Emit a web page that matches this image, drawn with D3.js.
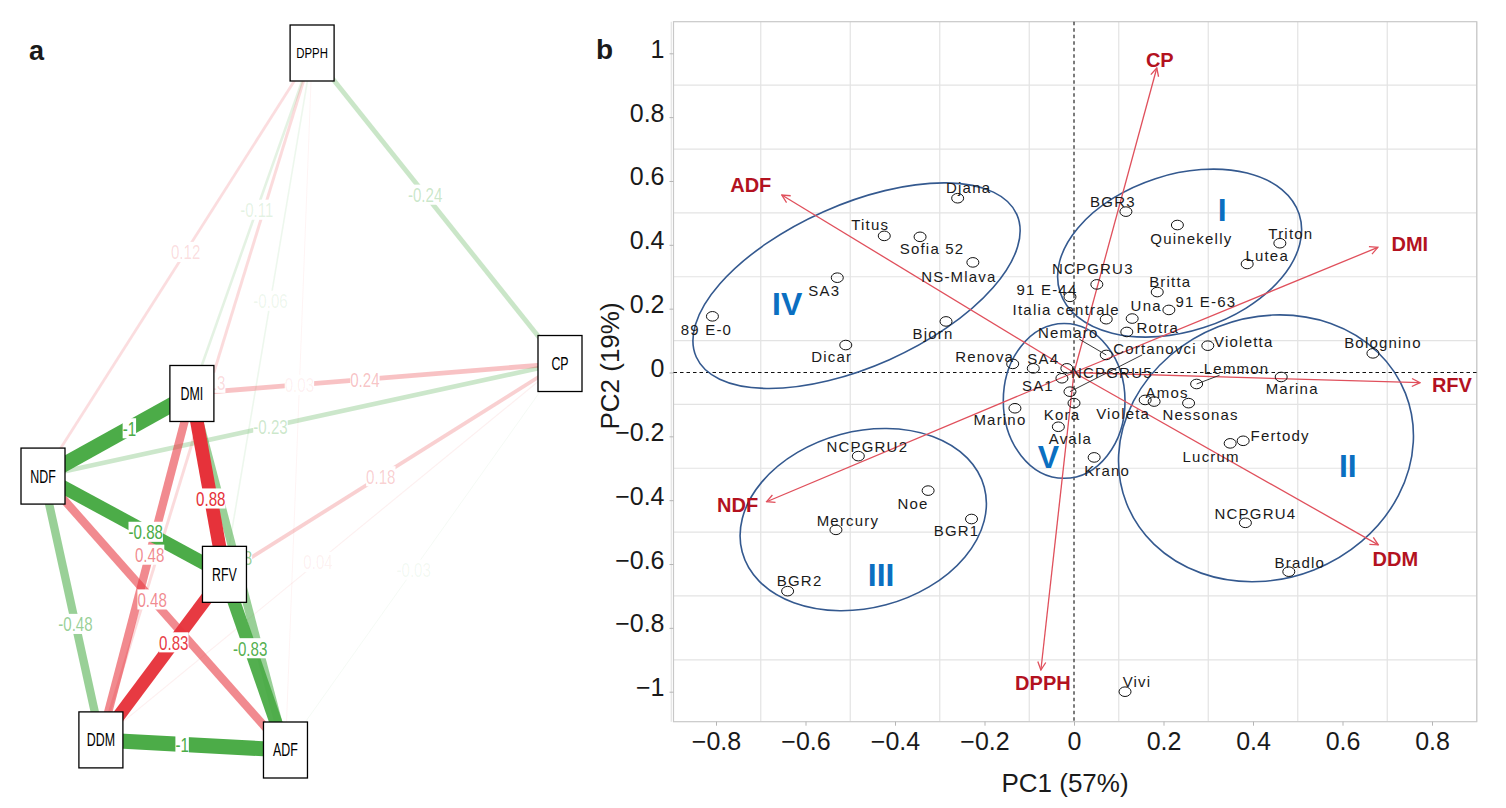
<!DOCTYPE html>
<html>
<head>
<meta charset="utf-8">
<script src="https://cdn.jsdelivr.net/npm/d3@7"></script>
<style>
  body { margin: 0; background: #fff; }
  text { font-family: "Liberation Sans", Arial, sans-serif; }
</style>
</head>
<body>
<div id="container"></div>
<script>
// ---------- panel a data: correlation network ----------
const nodeNames = ["DPPH", "CP", "DMI", "NDF", "RFV", "DDM", "ADF"];
// qgraph-like layout coordinates (-1..1)
const nodeX = [0.041, 1, -0.424, -1, -0.298, -0.776, -0.062];
const nodeY = [1, 0.109, 0.023, -0.214, -0.496, -0.971, -1];

const edgeFrom = ["NDF", "DDM", "DMI", "NDF", "DDM", "ADF", "DMI", "NDF", "NDF", "DMI", "DMI",
                  "NDF", "RFV", "DDM", "ADF", "DPPH", "DPPH", "DPPH", "DPPH", "DPPH", "DPPH"];
const edgeTo   = ["DMI", "ADF", "RFV", "RFV", "RFV", "RFV", "ADF", "DDM", "ADF", "DDM", "CP",
                  "CP", "CP", "CP", "CP", "CP", "NDF", "DMI", "RFV", "ADF", "DDM"];
const edgeR    = [-1, -1, 0.88, -0.88, 0.83, -0.83, -0.48, -0.48, 0.48, 0.48, 0.24,
                  -0.23, 0.18, 0.04, -0.03, -0.24, 0.12, -0.11, -0.06, 0.03, 0.13];
// where along the edge the label sits
const edgeLabelT = [0.58, 0.44, 0.58, 0.566, 0.59, 0.58, 0.46, 0.56, 0.45, 0.465, 0.47,
                    0.44, 0.466, 0.473, 0.467, 0.456, 0.47, 0.46, 0.475, 0.476, 0.48];

// ---------- panel b data: PCA biplot ----------
const cultivars = ["Djana", "Titus", "Sofia 52", "NS-Mlava", "SA3", "89 E-0", "Dicar", "Bjorn",
  "Renova", "Marino", "NCPGRU2", "Noe", "Mercury", "BGR1", "BGR2", "BGR3", "Quinekelly",
  "Triton", "Lutea", "NCPGRU3", "91 E-44", "Italia centrale", "Britta", "Una", "91 E-63",
  "Rotra", "Nemaro", "Cortanovci", "NCPGRU5", "SA4", "SA1", "Kora", "Avala", "Krano",
  "Violetta", "Bolognino", "Lemmon", "Marina", "Amos", "Violeta", "Nessonas", "Lucrum",
  "Fertody", "NCPGRU4", "Bradlo", "Vivi"];
const pc1 = [-0.260, -0.424, -0.344, -0.226, -0.529, -0.808, -0.510, -0.286,
  -0.137, -0.132, -0.482, -0.326, -0.532, -0.229, -0.640, 0.116, 0.231,
  0.460, 0.387, 0.051, -0.009, 0.072, 0.186, 0.130, 0.212,
  0.118, 0.072, -0.009, -0.016, -0.091, -0.027, 0.000, -0.035, 0.045,
  0.299, 0.668, 0.274, 0.463, 0.179, 0.159, 0.256, 0.349,
  0.378, 0.383, 0.480, 0.114];
const pc2 = [0.546, 0.428, 0.425, 0.345, 0.297, 0.176, 0.086, 0.160,
  0.027, -0.112, -0.262, -0.370, -0.493, -0.459, -0.685, 0.504, 0.462,
  0.405, 0.340, 0.276, 0.237, 0.167, 0.252, 0.169, 0.196,
  0.127, 0.055, -0.060, 0.013, 0.013, -0.018, -0.096, -0.170, -0.266,
  0.084, 0.060, -0.036, -0.014, -0.091, -0.086, -0.096, -0.222,
  -0.214, -0.471, -0.624, -1.000];

// variable loadings (arrows)
const varNames = ["CP", "ADF", "DMI", "RFV", "DDM", "DPPH", "NDF"];
const varPC1 = [0.185, -0.653, 0.679, 0.773, 0.680, -0.074, -0.687];
const varPC2 = [0.954, 0.556, 0.392, -0.032, -0.540, -0.932, -0.405];

// cluster ellipses (centre in PC units, half axes in PC1 units, tilt in degrees)
const clusterNames = ["I", "II", "III", "IV", "V"];
const clusterCX = [0.236, 0.429, -0.471, -0.486, -0.022];
const clusterCY = [0.374, -0.2375, -0.461, 0.272, -0.089];
const clusterA = [0.281, 0.335, 0.280, 0.392, 0.136];
const clusterB = [0.175, 0.292, 0.197, 0.181, 0.173];
const clusterTilt = [18, 21.5, 15, 24, 0];
const clusterLabelX = [0.331, 0.612, -0.431, -0.641, -0.057];
const clusterLabelY = [0.512, -0.290, -0.634, 0.217, -0.264];

const xTicks = d3.range(-4, 5).map(i => +(i * 0.2).toFixed(1));
const yTicks = d3.range(-5, 6).map(i => +(i * 0.2).toFixed(1));
const gridVals = d3.range(-9, 10, 2).map(i => +(i * 0.1).toFixed(1));

// label nudges in pixels (ggrepel placement)
const labelNudge = {
  "Djana": [11, -10], "Titus": [-14, -11], "Sofia 52": [12, 12], "NS-Mlava": [-14, 14],
  "SA3": [-13, 13], "89 E-0": [-6, 13], "Dicar": [-14, 12], "Bjorn": [-13, 12],
  "Renova": [-28, -7], "Marino": [-15, 12], "NCPGRU2": [9, -9], "Noe": [-15, 13],
  "Mercury": [12, -9], "BGR1": [-15, 12], "BGR2": [12, -10], "BGR3": [-13, -10],
  "Quinekelly": [14, 14], "Triton": [11, -9], "Lutea": [20, -8], "NCPGRU3": [-4, -16],
  "91 E-44": [-23, -7], "Italia centrale": [-40, -9], "Britta": [13, -10], "Una": [14, -13],
  "91 E-63": [37, -8], "Rotra": [31, -4], "Nemaro": [-38, -22], "Cortanovci": [85, -43],
  "NCPGRU5": [45, 4], "SA4": [10, -10], "SA1": [-24, 8], "Kora": [-12, 12], "Avala": [12, 12],
  "Krano": [13, 13], "Violetta": [36, -4], "Bolognino": [10, -11], "Lemmon": [40, -15],
  "Marina": [11, 12], "Amos": [13, -9], "Violeta": [-22, 14], "Nessonas": [12, 12],
  "Lucrum": [-19, 13], "Fertody": [37, -5], "NCPGRU4": [10, -9], "Bradlo": [11, -9], "Vivi": [12, -10]
};
const leaderNames = ["Nemaro", "Cortanovci", "Lemmon"];
const varLabelNudge = {"CP": [3, -8], "ADF": [-31, -10], "DMI": [32, -4], "RFV": [32, 2],
  "DDM": [17, 14], "DPPH": [2, 13], "NDF": [-29, 3]};

// ---------- svg ----------
let w = 1506, h = 808;
let svg = d3.select("#container").append("svg").attr("width", w).attr("height", h);

// ================= PANEL A =================
let gA = svg.append("g");
gA.append("text").attr("x", 29).attr("y", 60).attr("font-size", 27).attr("font-weight", "bold")
  .attr("fill", "#1a1a1a").text("a");

let ax = d3.scaleLinear().domain([-1, 1]).range([43, 560]);
let ay = d3.scaleLinear().domain([-1, 1]).range([750, 53]);
let nodePos = {};
nodeNames.forEach((n, i) => { nodePos[n] = [ax(nodeX[i]), ay(nodeY[i])]; });

let edges = edgeFrom.map((f, i) => ({a: f, b: edgeTo[i], r: edgeR[i], t: edgeLabelT[i]}));
edges.sort((p, q) => Math.abs(p.r) - Math.abs(q.r));

function edgeColor(r) { return r > 0 ? "rgb(230,50,58)" : "rgb(76,172,72)"; }
function edgeAlpha(r) { return Math.min(1, 0.03 + 1.12 * Math.abs(r)); }

let edgeG = gA.append("g");
edgeG.selectAll("line").data(edges).enter().append("line")
  .attr("x1", d => nodePos[d.a][0]).attr("y1", d => nodePos[d.a][1])
  .attr("x2", d => nodePos[d.b][0]).attr("y2", d => nodePos[d.b][1])
  .attr("stroke", d => edgeColor(d.r))
  .attr("stroke-opacity", d => edgeAlpha(d.r))
  .attr("stroke-width", d => Math.max(0.8, 15 * Math.pow(Math.abs(d.r), 0.8)));

// edge labels with white background (narrow face imitated with scaleX)
let labG = gA.append("g");
edges.forEach(d => {
  let p = nodePos[d.a], q = nodePos[d.b];
  let lx = p[0] + d.t * (q[0] - p[0]), ly = p[1] + d.t * (q[1] - p[1]);
  let g = labG.append("g").attr("transform", "translate(" + lx + "," + ly + ") scale(0.72,1)");
  let rect = g.append("rect").attr("fill", "#fff");
  let txt = g.append("text").attr("text-anchor", "middle").attr("dy", "0.36em")
    .attr("font-size", 21).attr("fill", edgeColor(d.r))
    .attr("fill-opacity", Math.max(0.07, edgeAlpha(d.r)))
    .text(d3.format("")(d.r).replace("\u2212", "-"));
  let bb = txt.node().getBBox();
  rect.attr("x", bb.x).attr("y", bb.y + 2).attr("width", bb.width).attr("height", bb.height - 4);
});

// node boxes
let boxW = 44, boxH = 56;
let nodeG = gA.append("g").selectAll("g").data(nodeNames).enter().append("g")
  .attr("transform", d => "translate(" + nodePos[d][0] + "," + nodePos[d][1] + ")");
nodeG.append("rect").attr("x", -boxW / 2).attr("y", -boxH / 2).attr("width", boxW).attr("height", boxH)
  .attr("fill", "#fff").attr("stroke", "#000").attr("stroke-width", 1.3);
nodeG.append("text").attr("text-anchor", "middle").attr("dy", "0.36em")
  .attr("font-size", d => d == "DPPH" ? 15 : 18)
  .attr("transform", d => d == "DPPH" ? "scale(0.76,1)" : "scale(0.69,1)")
  .attr("fill", "#000").text(d => d);

// ================= PANEL B =================
let gB = svg.append("g");
gB.append("text").attr("x", 596).attr("y", 59).attr("font-size", 28).attr("font-weight", "bold")
  .attr("fill", "#1a1a1a").text("b");

let xS = d3.scaleLinear().domain([-0.895, 0.9]).range([673.5, 1476.75]);
let yS = d3.scaleLinear().domain([-1.094, 1.099]).range([721.7, 21.7]);
let pxPerX = xS(1) - xS(0);

// grid (only odd tenths, as in the figure)
gB.append("g").selectAll("line").data(gridVals).enter().append("line")
  .attr("x1", d => xS(d)).attr("x2", d => xS(d)).attr("y1", yS.range()[1]).attr("y2", yS.range()[0])
  .attr("stroke", "#e3e3e3").attr("stroke-width", 1.2);
gB.append("g").selectAll("line").data(gridVals).enter().append("line")
  .attr("y1", d => yS(d)).attr("y2", d => yS(d)).attr("x1", xS.range()[0]).attr("x2", xS.range()[1])
  .attr("stroke", "#e3e3e3").attr("stroke-width", 1.2);
// panel border
gB.append("rect").attr("x", xS.range()[0]).attr("y", yS.range()[1])
  .attr("width", xS.range()[1] - xS.range()[0]).attr("height", yS.range()[0] - yS.range()[1])
  .attr("fill", "none").attr("stroke", "#c8c8c8").attr("stroke-width", 1.2);

// axes
let xAxis = d3.axisBottom(xS).tickValues(xTicks).tickFormat(d3.format("")).tickSize(4).tickPadding(6.5);
let xAxisGroup = gB.append("g").attr("transform", "translate(0," + yS.range()[0] + ")").call(xAxis);
let yAxis = d3.axisLeft(yS).tickValues(yTicks).tickFormat(d3.format("")).tickSize(4).tickPadding(5);
let yAxisGroup = gB.append("g").attr("transform", "translate(" + xS.range()[0] + ",0)").call(yAxis);
[xAxisGroup, yAxisGroup].forEach(g => {
  g.select(".domain").remove();
  g.selectAll("line").attr("stroke", "#b5b5b5");
  g.selectAll("text").attr("font-size", 25).attr("fill", "#1a1a1a")
    .attr("font-family", "Liberation Sans, Arial, sans-serif");
});
yAxisGroup.selectAll("text").attr("dy", "0.16em");

gB.append("text").attr("x", 1065).attr("y", 792).attr("text-anchor", "middle")
  .attr("font-size", 26).attr("fill", "#1a1a1a").text("PC1 (57%)");
gB.append("text").attr("transform", "translate(619,366) rotate(-90)").attr("text-anchor", "middle")
  .attr("font-size", 26).attr("fill", "#1a1a1a").text("PC2 (19%)");

// zero lines
gB.append("line").attr("x1", xS(0)).attr("x2", xS(0)).attr("y1", yS.range()[1]).attr("y2", yS.range()[0])
  .attr("stroke", "#111").attr("stroke-dasharray", "3.5,3").attr("stroke-width", 1.1);
gB.append("line").attr("y1", yS(0)).attr("y2", yS(0)).attr("x1", xS.range()[0]).attr("x2", xS.range()[1])
  .attr("stroke", "#111").attr("stroke-dasharray", "3.5,3").attr("stroke-width", 1.1);

// cluster ellipses
gB.append("g").selectAll("ellipse").data(clusterNames).enter().append("ellipse")
  .attr("cx", (d, i) => xS(clusterCX[i])).attr("cy", (d, i) => yS(clusterCY[i]))
  .attr("rx", (d, i) => clusterA[i] * pxPerX).attr("ry", (d, i) => clusterB[i] * pxPerX)
  .attr("transform", (d, i) => "rotate(" + (-clusterTilt[i]) + "," + xS(clusterCX[i]) + "," + yS(clusterCY[i]) + ")")
  .attr("fill", "none").attr("stroke", "#34598f").attr("stroke-width", 1.6);

// arrows
svg.append("defs").append("marker").attr("id", "arr").attr("viewBox", "0 0 10 10")
  .attr("refX", 9).attr("refY", 5).attr("markerWidth", 10).attr("markerHeight", 10)
  .attr("markerUnits", "userSpaceOnUse").attr("orient", "auto")
  .append("path").attr("d", "M1,1 L9,5 L1,9").attr("fill", "none")
  .attr("stroke", "#e0505c").attr("stroke-width", 1.3);
gB.append("g").selectAll("line").data(varNames).enter().append("line")
  .attr("x1", xS(0)).attr("y1", yS(0))
  .attr("x2", (d, i) => xS(varPC1[i])).attr("y2", (d, i) => yS(varPC2[i]))
  .attr("stroke", "#e0505c").attr("stroke-width", 1.3).attr("marker-end", "url(#arr)");

// points
gB.append("g").selectAll("ellipse").data(cultivars).enter().append("ellipse")
  .attr("cx", (d, i) => xS(pc1[i])).attr("cy", (d, i) => yS(pc2[i]))
  .attr("rx", 6).attr("ry", 4.8).attr("fill", "none").attr("stroke", "#111").attr("stroke-width", 1);

// point labels
let ptLab = gB.append("g").selectAll("text").data(cultivars).enter().append("text")
  .attr("x", (d, i) => xS(pc1[i]) + labelNudge[d][0])
  .attr("y", (d, i) => yS(pc2[i]) + labelNudge[d][1])
  .attr("text-anchor", "middle").attr("dy", "0.35em")
  .attr("font-size", 15).attr("letter-spacing", 1.2).attr("fill", "#1a1a1a")
  .text(d => d);

// leader segments for repelled labels
ptLab.each(function(d, i) {
  if (leaderNames.indexOf(d) < 0) return;
  let bb = this.getBBox();
  let px = xS(pc1[i]), py = yS(pc2[i]);
  let cx = bb.x + bb.width / 2, cy = bb.y + bb.height / 2;
  function tAx(p, c, lo, hi) {
    if (p < lo) return (lo - p) / (c - p);
    if (p > hi) return (hi - p) / (c - p);
    return 0;
  }
  let t = Math.max(tAx(px, cx, bb.x, bb.x + bb.width), tAx(py, cy, bb.y + 2, bb.y + bb.height - 2));
  gB.append("line").attr("x1", px).attr("y1", py)
    .attr("x2", px + t * (cx - px)).attr("y2", py + t * (cy - py))
    .attr("stroke", "#222").attr("stroke-width", 0.9);
});

// variable labels
gB.append("g").selectAll("text").data(varNames).enter().append("text")
  .attr("x", (d, i) => xS(varPC1[i]) + varLabelNudge[d][0])
  .attr("y", (d, i) => yS(varPC2[i]) + varLabelNudge[d][1])
  .attr("text-anchor", "middle").attr("dy", "0.36em")
  .attr("font-size", 20).attr("font-weight", "bold").attr("fill", "#b3121f")
  .text(d => d);

// cluster labels
gB.append("g").selectAll("text").data(clusterNames).enter().append("text")
  .attr("x", (d, i) => xS(clusterLabelX[i])).attr("y", (d, i) => yS(clusterLabelY[i]))
  .attr("text-anchor", "middle").attr("dy", "0.36em")
  .attr("font-size", 32).attr("font-weight", "bold").attr("fill", "#0b6fc1")
  .text(d => d);
</script>
</body>
</html>
